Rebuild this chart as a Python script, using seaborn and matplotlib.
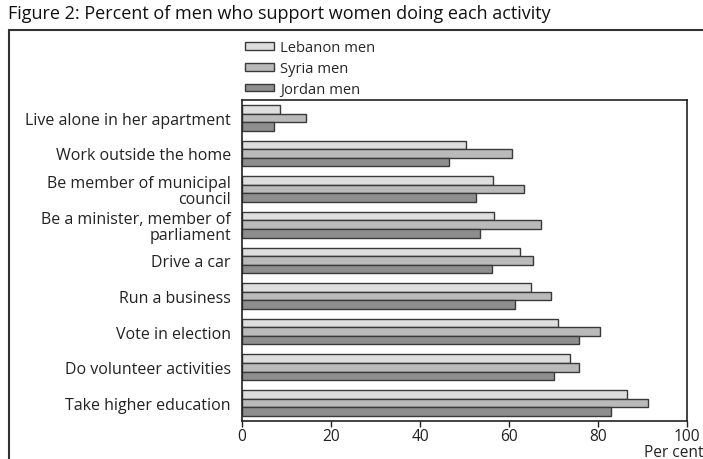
import matplotlib
matplotlib.use("Agg")
import matplotlib.pyplot as plt
import seaborn as sns
import pandas as pd
from matplotlib.lines import Line2D

categories = [
    "Live alone in her apartment",
    "Work outside the home",
    "Be member of municipal\ncouncil",
    "Be a minister, member of\nparliament",
    "Drive a car",
    "Run a business",
    "Vote in election",
    "Do volunteer activities",
    "Take higher education",
]
series_names = ["Lebanon men", "Syria men", "Jordan men"]
lebanon = [8.5, 50.3, 56.3, 56.7, 62.4, 65.0, 71.1, 73.8, 86.6]
syria = [14.4, 60.6, 63.3, 67.2, 65.5, 69.4, 80.4, 75.8, 91.3]
jordan = [7.2, 46.5, 52.6, 53.4, 56.2, 61.4, 75.8, 70.2, 83.0]
x_ticks = [0, 20, 40, 60, 80, 100]

rows = []
for name, vals in zip(series_names, [lebanon, syria, jordan]):
    for c, v in zip(categories, vals):
        rows.append({"activity": c, "series": name, "value": v})
df = pd.DataFrame(rows)

sns.set_style("white")
plt.rcParams["font.family"] = ["Open Sans", "DejaVu Sans"]

fig = plt.figure(figsize=(7.03, 4.6), dpi=100)
ax = fig.add_axes([242 / 703, 1 - 421.7 / 460, (687 - 242) / 703, (421.7 - 101) / 460])

palette = ["#dedede", "#bababa", "#8e8e8e"]
sns.barplot(data=df, y="activity", x="value", hue="series", hue_order=series_names,
            order=categories, palette=palette, orient="h", width=0.72,
            edgecolor="#3a3a3a", linewidth=1.0, ax=ax, legend=True)

ax.set_xlim(0, 100)
ax.set_xticks(x_ticks)
ax.set_xlabel("")
ax.set_ylabel("")
ax.tick_params(axis="x", labelsize=11.2, length=4, width=1, color="#222222", direction="out",
               bottom=True, labelcolor="#222222", pad=1.5)
ax.tick_params(axis="y", labelsize=11.5, length=0, pad=8, labelcolor="#222222")
for lab in ax.get_yticklabels():
    lab.set_multialignment("right")
    lab.set_linespacing(1.0)
for s in ax.spines.values():
    s.set_color("#222222")
    s.set_linewidth(1.2)

handles, labels = ax.get_legend_handles_labels()
ax.legend(handles, labels, loc="upper left", bbox_to_anchor=(3 / 445, 1.0 + 60 / 320.7),
          frameon=False, fontsize=10.6, handlelength=2.0, handleheight=0.45,
          handletextpad=0.4, labelspacing=0.4, borderaxespad=0, borderpad=0)

fig.text(8 / 703, 1 - 14 / 460, "Figure 2: Percent of men who support women doing each activity",
         fontsize=13, ha="left", va="center", color="#111111")
fig.text(703 / 703, 1 - 453 / 460, "Per cent", fontsize=11.2, ha="right", va="center", color="#222222")

fig.add_artist(Line2D([9 / 703, 9 / 703], [0, 1 - 31 / 460], transform=fig.transFigure,
                      color="#333333", linewidth=1.5))
fig.add_artist(Line2D([9 / 703, 1], [1 - 31 / 460, 1 - 31 / 460], transform=fig.transFigure,
                      color="#333333", linewidth=1.5))

fig.savefig("out.png", dpi=100)
